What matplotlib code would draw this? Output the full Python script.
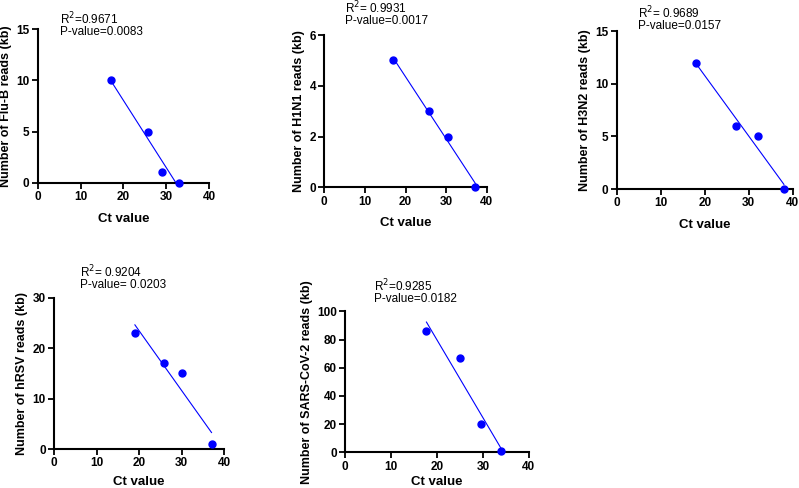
import numpy as np
import matplotlib
matplotlib.use('agg')
import matplotlib.pyplot as plt

plt.rcParams['font.family'] = ['Liberation Sans', 'DejaVu Sans']

# data
flub_ct = [17, 25.7, 29, 33]
flub_reads = [10, 5, 1, 0]
h1n1_ct = [17, 25.7, 30.5, 37.2]
h1n1_reads = [5, 3, 2, 0]
h3n2_ct = [18, 27, 32, 38]
h3n2_reads = [12, 6, 5, 0]
hrsv_ct = [19, 25.8, 30, 37]
hrsv_reads = [23, 17, 15, 1]
sars_ct = [17.7, 25.1, 29.5, 34]
sars_reads = [86, 67, 20, 1]

W, H = 799, 488

# (ct, reads, ylabel, ymax, ytick step, r2 text, p text,
#  axes box px [left, right, top, bottom], text x,y px, xlabel pad)
panels = [
    (flub_ct, flub_reads, 'Number of Flu-B reads (kb)', 15, 5,
     'R$^2$=0.9671', 'P-value=0.0083', (37.7, 209, 29.3, 182.7), (60, 19), 7),
    (h1n1_ct, h1n1_reads, 'Number of H1N1 reads (kb)', 6, 2,
     'R$^2$= 0.9931', 'P-value=0.0017', (324.3, 486.7, 35, 187.3), (345, 8), 7),
    (h3n2_ct, h3n2_reads, 'Number of H3N2 reads (kb)', 15, 5,
     'R$^2$= 0.9689', 'P-value=0.0157', (616.7, 792.7, 31, 189), (638, 13), 7),
    (hrsv_ct, hrsv_reads, 'Number of hRSV reads (kb)', 30, 10,
     'R$^2$= 0.9204', 'P-value= 0.0203', (54, 224.3, 297.7, 449), (80, 272), 4.5),
    (sars_ct, sars_reads, 'Number of SARS-CoV-2 reads (kb)', 100, 20,
     'R$^2$=0.9285', 'P-value=0.0182', (345.3, 528.7, 311.3, 452.3), (374, 286), 2.5),
]

fig = plt.figure(figsize=(W / 100, H / 100), dpi=100)

for ct, reads, ylab, ymax, ystep, r2, pv, box, txt, xpad in panels:
    l, r, t, b = box
    ax = fig.add_axes([l / W, 1 - b / H, (r - l) / W, (b - t) / H])
    slope, icpt = np.polyfit(ct, reads, 1)
    xs = np.array([min(ct), max(ct)])
    ax.plot(xs, slope * xs + icpt, color='#0000FF', linewidth=0.8)
    ax.plot(ct, reads, 'o', color='#0000FF', markersize=5, clip_on=False, zorder=3)
    ax.set_xlim(0, 40)
    ax.set_ylim(0, ymax)
    ax.set_xticks([0, 10, 20, 30, 40])
    ax.set_yticks(np.arange(0, ymax + 0.1, ystep))
    for s in ['top', 'right']:
        ax.spines[s].set_visible(False)
    for s in ['left', 'bottom']:
        ax.spines[s].set_linewidth(1.5)
    ax.tick_params(direction='out', length=4, width=1.3, labelsize=8.5, pad=2)
    for lab in ax.get_xticklabels() + ax.get_yticklabels():
        lab.set_fontweight('bold')
    ax.set_xlabel('Ct value', fontsize=9.5, fontweight='bold', labelpad=xpad)
    ax.set_ylabel(ylab, fontsize=9, fontweight='bold', labelpad=3)
    tx, ty = txt
    fig.text(tx / W, 1 - ty / H, r2, fontsize=8.5, va='center', ha='left')
    fig.text(tx / W, 1 - (ty + 13) / H, pv, fontsize=8.5, va='center', ha='left')

fig.savefig('out.png', dpi=100)
